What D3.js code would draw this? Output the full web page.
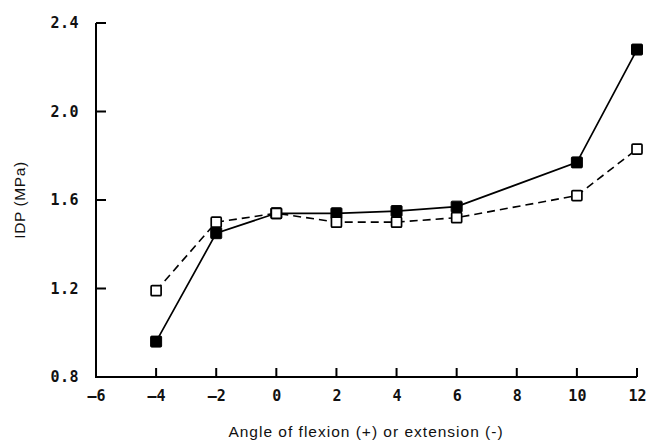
<!DOCTYPE html>
<html>
<head>
<meta charset="utf-8">
<script src="https://cdn.jsdelivr.net/npm/d3@7"></script>
<style>
  html, body { margin: 0; padding: 0; background: #fff; }
  svg { display: block; }
  .tick text { font-family: "DejaVu Sans Mono", monospace; font-size: 15px; font-weight: bold; fill: #111; }
</style>
</head>
<body>
<svg id="chart" width="650" height="442"></svg>
<script>
// ---- data ----
const angles = [-4, -2, 0, 2, 4, 6, 10, 12];
const filledValues = [0.96, 1.45, 1.54, 1.54, 1.55, 1.57, 1.77, 2.28];
const openValues   = [1.19, 1.50, 1.54, 1.50, 1.50, 1.52, 1.62, 1.83];
const xTicks = [-6, -4, -2, 0, 2, 4, 6, 8, 10, 12];
const yTicks = [0.8, 1.2, 1.6, 2.0, 2.4];
const xTitle = "Angle of flexion (+) or extension (-)";
const yTitle = "IDP (MPa)";

const svg = d3.select("#chart");
const x = d3.scaleLinear().domain([-6, 12]).range([96, 637]);
const y = d3.scaleLinear().domain([0.8, 2.4]).range([377, 23]);

// axis labels via d3 axis
const xAxis = d3.axisBottom(x).tickValues(xTicks).tickSize(0).tickPadding(13)
  .tickFormat(d => d < 0 ? "\u2013" + Math.abs(d) : d);
const gx = svg.append("g").attr("transform", `translate(0,${y(0.8)})`).call(xAxis);
gx.select(".domain").remove();

const yAxis = d3.axisLeft(y).tickValues(yTicks).tickSize(0).tickPadding(17)
  .tickFormat(d3.format(".1f"));
const gy = svg.append("g").attr("transform", `translate(${x(-6)},0)`).call(yAxis);
gy.select(".domain").remove();
gy.selectAll(".tick text").attr("letter-spacing", "0.5px");

// axis lines and inward ticks, drawn as paths
const ax = x(-6), ay = y(0.8);
let dPath = `M${ax},${y(2.4)}V${ay}H${x(12)}`;
xTicks.slice(1).forEach(t => { dPath += `M${x(t)},${ay}V${ay - 9}`; });
yTicks.slice(1).forEach(t => { dPath += `M${ax},${y(t)}H${ax + 10}`; });
svg.append("path").attr("d", dPath)
  .style("fill", "none").style("stroke", "#000").style("stroke-width", "2px");

// titles
svg.append("text")
  .attr("x", 366).attr("y", 437)
  .attr("text-anchor", "middle")
  .style("font-family", "'Liberation Sans', Arial, sans-serif")
  .style("font-size", "15.5px").attr("letter-spacing", "1px")
  .attr("fill", "#111")
  .text(xTitle);
svg.append("text")
  .attr("transform", `translate(25,${200}) rotate(-90)`)
  .attr("text-anchor", "middle")
  .style("font-family", "'Liberation Sans', Arial, sans-serif")
  .style("font-size", "15.5px").attr("letter-spacing", "0.6px")
  .attr("fill", "#111")
  .text(yTitle);

// lines
const filled = angles.map((a, i) => ({a, v: filledValues[i]}));
const open = angles.map((a, i) => ({a, v: openValues[i]}));
const line = d3.line().x(d => x(d.a)).y(d => y(d.v));

svg.append("path").datum(open).attr("d", line)
  .attr("fill", "none").attr("stroke", "#000").attr("stroke-width", 1.6)
  .attr("stroke-dasharray", "8,5");
svg.append("path").datum(filled).attr("d", line)
  .attr("fill", "none").attr("stroke", "#000").attr("stroke-width", 1.7);

// markers
const s = 11;
svg.append("g").selectAll("rect").data(filled).join("rect")
  .attr("x", d => x(d.a) - s / 2).attr("y", d => y(d.v) - s / 2)
  .attr("width", s).attr("height", s).attr("rx", 1)
  .attr("fill", "#000").attr("stroke", "#000").attr("stroke-width", 1);
svg.append("g").selectAll("rect").data(open).join("rect")
  .attr("x", d => x(d.a) - (s - 1) / 2).attr("y", d => y(d.v) - (s - 1) / 2)
  .attr("width", s - 1).attr("height", s - 1).attr("rx", 1)
  .attr("fill", "#fff").attr("stroke", "#000").attr("stroke-width", 1.7);
</script>
</body>
</html>
